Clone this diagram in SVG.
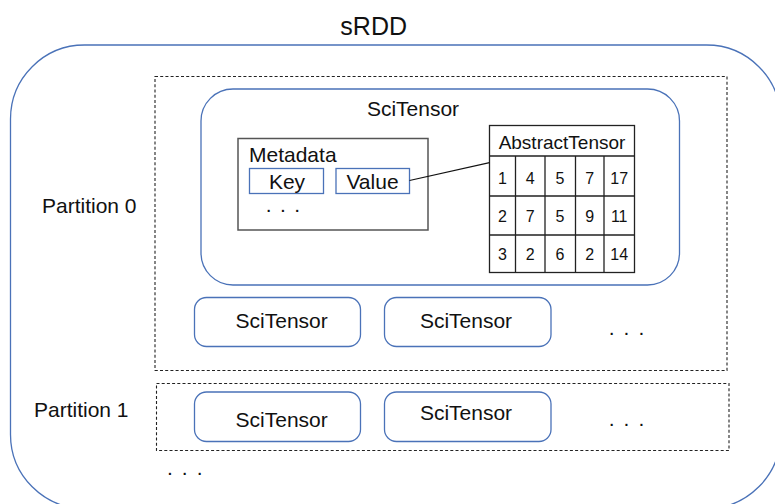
<svg xmlns="http://www.w3.org/2000/svg" width="775" height="504" viewBox="0 0 775 504">
  <style>
    text { font-family: "Liberation Sans", Arial, sans-serif; fill: #111; }
    .blue { fill: none; stroke: #4a72b8; stroke-width: 1.3; }
    .dash { fill: none; stroke: #222; stroke-width: 1.1; stroke-dasharray: 3 2.2; }
    .grid { fill: none; stroke: #222; stroke-width: 1.3; }
    .lbl { font-size: 21px; }
    .mid { text-anchor: middle; }
    .dots { font-size: 21px; letter-spacing: 1.6px; }
    .num { font-size: 16px; text-anchor: middle; }
  </style>
  <rect width="775" height="504" fill="#fff"/>

  <!-- sRDD container -->
  <g id="srdd">
    <rect class="blue" x="10.5" y="45" width="770" height="463.5" rx="74" ry="74"/>
    <text x="373.7" y="35" font-size="25" class="mid">sRDD</text>
    <text class="dots" x="167" y="475">. . .</text>
  </g>

  <!-- Partition 0 -->
  <g id="partition0">
    <rect class="dash" x="155" y="76.5" width="572" height="294"/>
    <text class="lbl" x="42" y="213.3">Partition 0</text>
    <text class="dots" x="608.7" y="335">. . .</text>
  </g>

  <!-- Expanded SciTensor -->
  <g id="scitensor-main">
    <rect class="blue" x="201" y="89" width="478.5" height="196" rx="32" ry="32"/>
    <text class="lbl mid" x="413" y="116">SciTensor</text>
  </g>

  <!-- Metadata -->
  <g id="metadata">
    <rect x="238" y="138.5" width="190" height="91.5" fill="none" stroke="#555" stroke-width="1.5"/>
    <text class="lbl" x="249" y="161.7">Metadata</text>
    <text class="dots" x="265.7" y="211.5" style="letter-spacing:1.3px">. . .</text>
  </g>
  <g id="key">
    <rect class="blue" x="249.5" y="168.5" width="74" height="25"/>
    <text class="lbl mid" x="287" y="189">Key</text>
  </g>
  <g id="value">
    <rect class="blue" x="336" y="168.5" width="73.5" height="25"/>
    <text class="lbl mid" x="372.5" y="189">Value</text>
  </g>

  <!-- AbstractTensor table -->
  <g id="abstract-tensor">
    <rect class="grid" x="489.5" y="125.5" width="145" height="147"/>
    <path class="grid" d="M489.5 156H634.5M489.5 196H634.5M489.5 235H634.5M515.5 156V272.5M545 156V272.5M575.5 156V272.5M604 156V272.5"/>
    <text x="562" y="149.3" font-size="19" class="mid">AbstractTensor</text>
    <text class="num" x="502.5" y="184">1</text>
    <text class="num" x="530.2" y="184">4</text>
    <text class="num" x="560" y="184">5</text>
    <text class="num" x="589.7" y="184">7</text>
    <text class="num" x="619.2" y="184">17</text>
    <text class="num" x="502.5" y="221.7">2</text>
    <text class="num" x="530.2" y="221.7">7</text>
    <text class="num" x="560" y="221.7">5</text>
    <text class="num" x="589.7" y="221.7">9</text>
    <text class="num" x="619.2" y="221.7">11</text>
    <text class="num" x="502.5" y="260">3</text>
    <text class="num" x="530.2" y="260">2</text>
    <text class="num" x="560" y="260">6</text>
    <text class="num" x="589.7" y="260">2</text>
    <text class="num" x="619.2" y="260">14</text>
  </g>

  <!-- Other SciTensors in partition 0 -->
  <g id="p0-scitensor-1">
    <rect class="blue" x="194.5" y="297.5" width="166" height="49" rx="12"/>
    <text class="lbl mid" x="281.7" y="328.3">SciTensor</text>
  </g>
  <g id="p0-scitensor-2">
    <rect class="blue" x="384.5" y="297.5" width="166.5" height="49" rx="12"/>
    <text class="lbl mid" x="466" y="328.3">SciTensor</text>
  </g>

  <!-- Partition 1 -->
  <g id="partition1">
    <rect class="dash" x="156.5" y="383.5" width="572.5" height="67"/>
    <text class="lbl" x="34" y="416.7">Partition 1</text>
    <text class="dots" x="608.7" y="426">. . .</text>
  </g>
  <g id="p1-scitensor-1">
    <rect class="blue" x="194.5" y="392" width="166" height="49.5" rx="12"/>
    <text class="lbl mid" x="281.7" y="426.7">SciTensor</text>
  </g>
  <g id="p1-scitensor-2">
    <rect class="blue" x="384.5" y="392" width="166.5" height="49.5" rx="12"/>
    <text class="lbl mid" x="466" y="420">SciTensor</text>
  </g>

  <!-- Connectors -->
  <g id="connectors">
    <line x1="409.5" y1="180.5" x2="489.5" y2="162.7" stroke="#111" stroke-width="1.2"/>
  </g>
</svg>
